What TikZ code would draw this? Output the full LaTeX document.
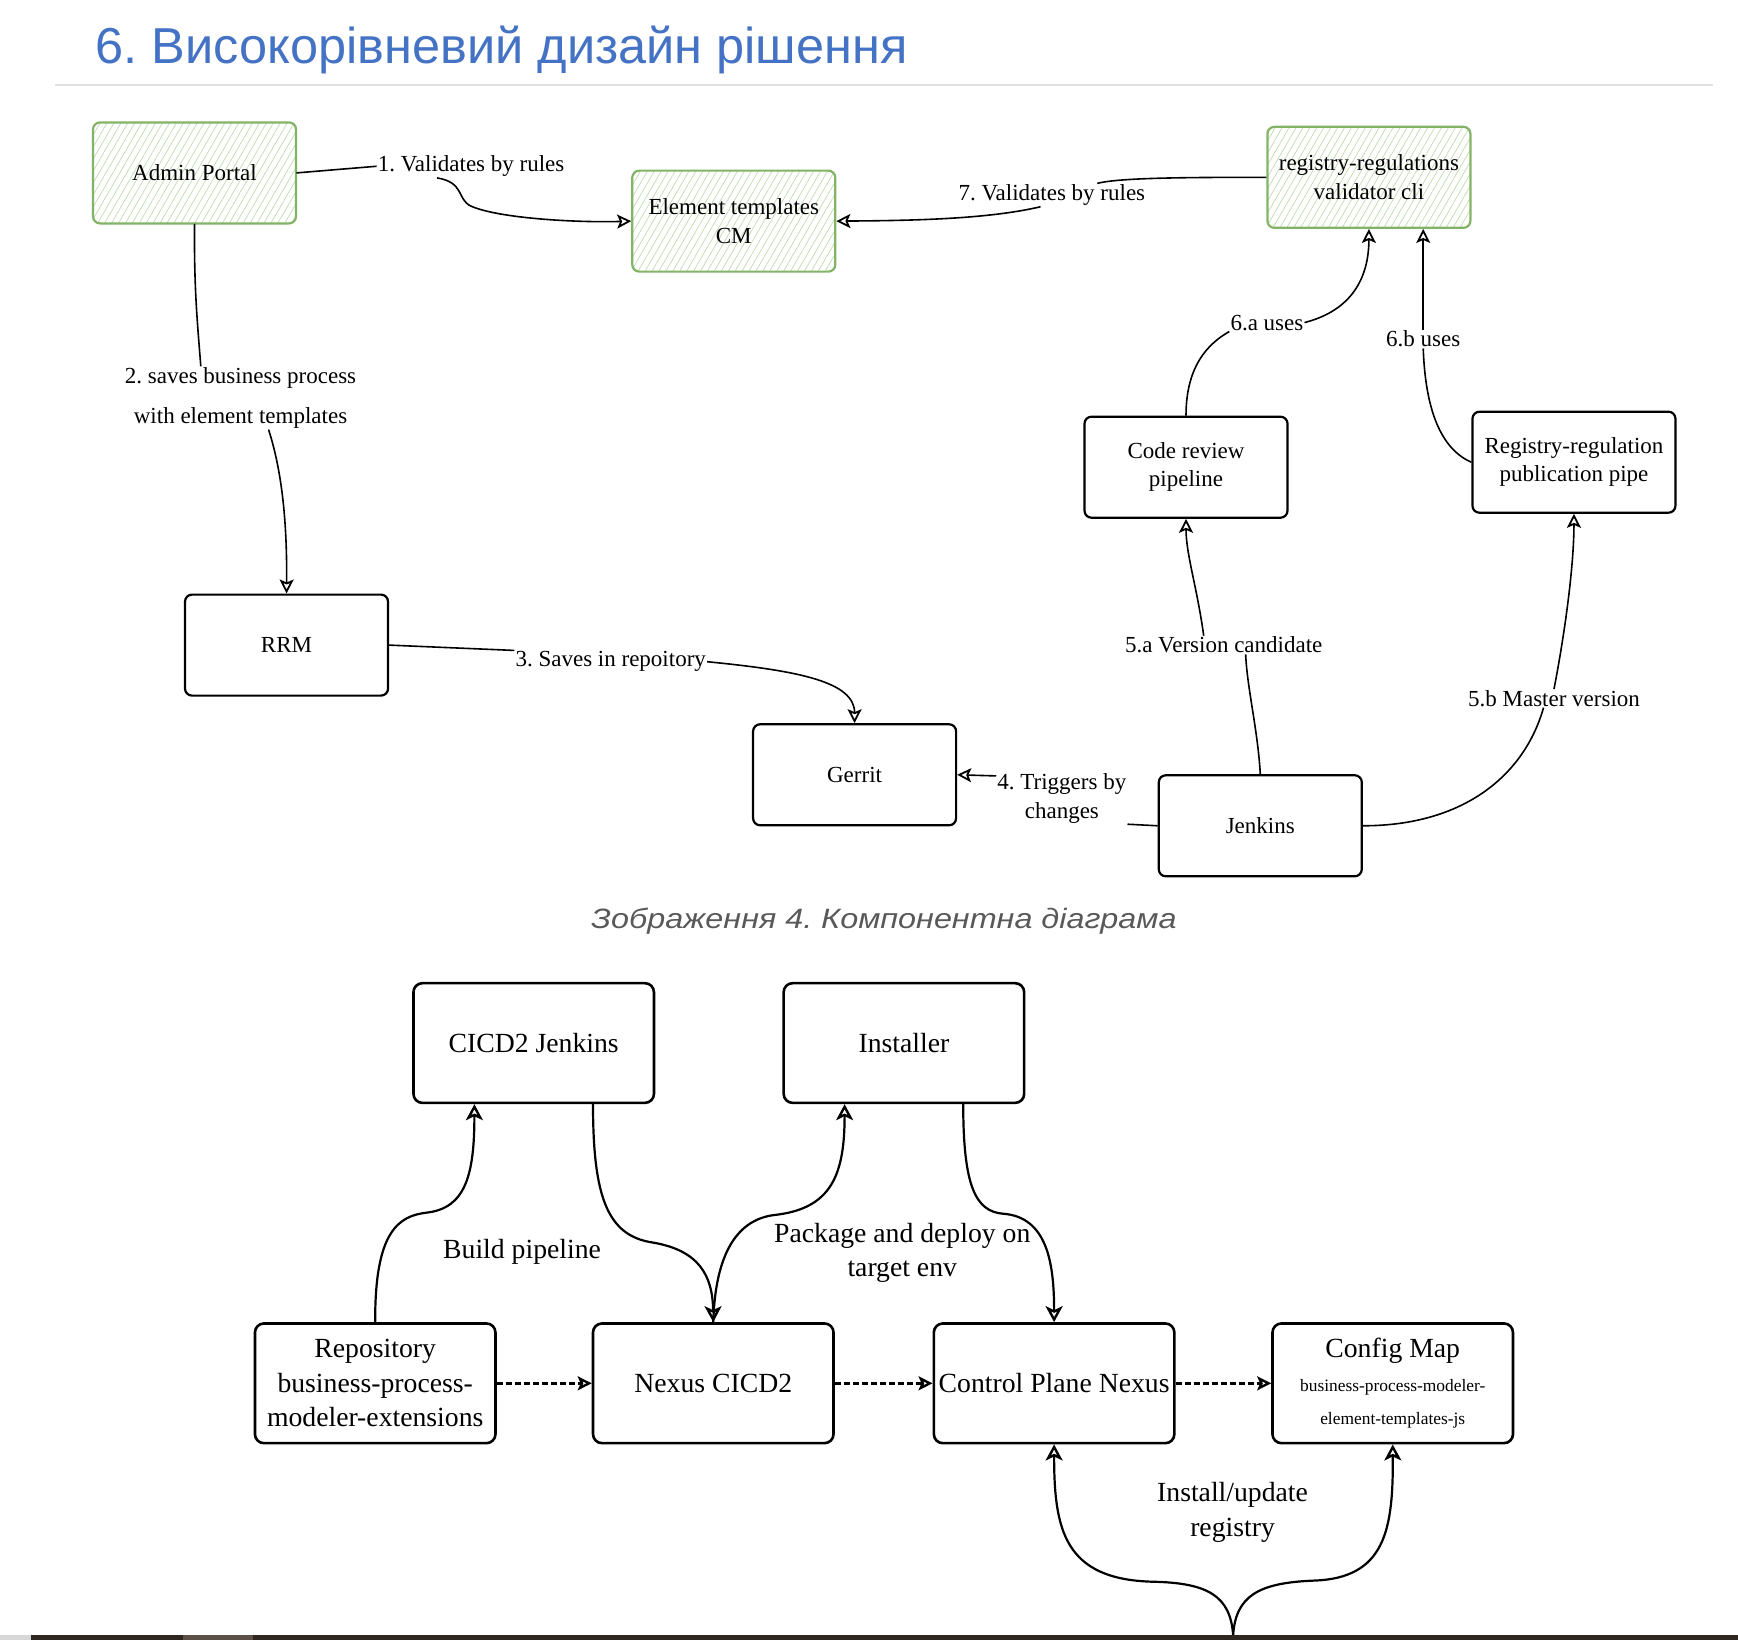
\documentclass[tikz,border=0pt]{standalone}
\usepackage{fontspec}
\usepackage{graphicx}
\setmainfont{Liberation Serif}
\newfontfamily\sansf{Liberation Sans}
\usetikzlibrary{arrows.meta,patterns.meta,calc}
\definecolor{titleblue}{RGB}{68,114,196}
\definecolor{capgray}{RGB}{89,89,89}
\definecolor{gborder}{RGB}{130,179,102}
\definecolor{ghatch}{RGB}{196,222,180}
\definecolor{rulegray}{RGB}{224,224,224}
\definecolor{bardark}{RGB}{48,38,32}
\definecolor{barpatch}{RGB}{92,80,72}
\definecolor{barleft}{RGB}{215,215,215}
\frenchspacing
\begin{document}
\frenchspacing
\begin{tikzpicture}[x=1.1084pt,y=-1.1084pt,
  tbox/.style={draw, line width=2.2pt, rounded corners=7pt, minimum width=203pt, minimum height=101pt, inner sep=2pt, align=center, font=\fontsize{23}{28.5}\selectfont},
  gbox/.style={tbox, draw=gborder, pattern={Lines[angle=60,distance=6pt,line width=0.8pt]}, pattern color=ghatch},
  tlab/.style={inner sep=1pt, align=center, font=\fontsize{23}{29}\selectfont},
  tarr/.style={line width=1.6pt, -{Stealth[open,length=14pt,width=14pt,inset=3pt,line width=1.8pt]}},
  tline/.style={line width=1.6pt},
  bbox/.style={draw, line width=2.6pt, rounded corners=9pt, minimum width=240.5pt, minimum height=119.7pt, inner sep=2pt, align=center, font=\fontsize{27.7}{34.4}\selectfont},
  blab/.style={inner sep=1pt, align=center, font=\fontsize{27.7}{34.4}\selectfont},
  barr/.style={line width=2.2pt, -{Stealth[open,length=16pt,width=17pt,inset=4pt,line width=2.4pt]}},
  dasharr/.style={line width=2.6pt, dash pattern=on 6pt off 3pt, -{Stealth[open,length=14pt,width=14pt,inset=3pt,line width=2.4pt]}},
]
\useasboundingbox (0,0) rectangle (1568,1480);

% title and rule
\node[anchor=base west, inner sep=0, text=titleblue, font=\sansf\fontsize{50.5}{60}\selectfont] (title) at (86,57.7) {6. Високорівневий дизайн рішення};
\draw[rulegray, line width=2pt] (50,76.5) -- (1545,76.5);

% ---------- top diagram ----------
\node[gbox] (admin) at (175.5,156) {Admin Portal};
\node[gbox] (etcm) at (662,199.5) {Element templates\\CM};
\node[gbox] (valcli) at (1235,160) {registry-regulations\\validator cli};
\node[tbox] (crp) at (1070,421.5) {Code review\\pipeline};
\node[tbox] (rpp) at (1420,417) {Registry-regulation\\publication pipe};
\node[tbox] (rrm) at (258.5,582) {RRM};
\node[tbox] (gerrit) at (771,699) {Gerrit};
\node[tbox] (jenkins) at (1137,745) {Jenkins};

\node[tlab] (l1) at (425,150) {1. Validates by rules};
\node[tlab, font=\fontsize{23}{40}\selectfont] (l2) at (217,359) {2. saves business process\\with element templates};
\node[tlab] (l3) at (551,597) {3. Saves in repoitory};
\node[tlab] (l4) at (958,720) {4. Triggers by\\changes};
\node[tlab] (l5a) at (1104,582) {5.a Version candidate};
\node[tlab] (l5b) at (1402,630) {5.b Master version};
\node[tlab] (l6a) at (1143,291) {6.a uses};
\node[tlab] (l6b) at (1284,306) {6.b uses};
\node[tlab] (l7) at (949,176) {7. Validates by rules};

\draw[tline] (admin.east) -- (l1.west);
\draw[tarr] ($(l1.south west)!0.32!(l1.south east)$) .. controls +(25,4) and (412,180) .. (425,186) .. controls (450,197) and (520,201) .. (etcm.west);

\draw[tline] (admin.south) .. controls (175,260) and (178,290) .. ($(l2.north west)!0.33!(l2.north east)$);
\draw[tarr] ($(l2.south west)!0.62!(l2.south east)$) .. controls (256,430) and (259,480) .. (rrm.north);

\draw[tline] (rrm.east) -- (l3.north west);
\draw[tarr] (l3.east) .. controls (720,605) and (771,615) .. (gerrit.north);

\draw[tline] (jenkins.west) -- (l4.south east);
\draw[tarr] ([yshift=-4pt]l4.north west) -- (gerrit.east);

\draw[tline] (jenkins.north) .. controls (1135,660) and (1125,620) .. ($(l5a.south west)!0.61!(l5a.south east)$);
\draw[tarr] ($(l5a.north west)!0.4!(l5a.north east)$) .. controls (1080,530) and (1070,500) .. (crp.south);

\draw[tline] (jenkins.east) .. controls (1320,745) and (1375,700) .. ($(l5b.south west)!0.44!(l5b.south east)$);
\draw[tarr] (l5b.north) .. controls (1412,570) and (1420,510) .. (rpp.south);

\draw[tline] (crp.north) .. controls (1070,330) and (1090,310) .. (l6a.south west);
\draw[tarr] (l6a.east) .. controls (1220,280) and (1235,250) .. (valcli.south);

\draw[tline] (rpp.west) .. controls (1300,405) and (1286,370) .. (l6b.south);
\draw[tarr] (l6b.north) -- (l6b.north |- valcli.south);

\draw[tline] (valcli.west) .. controls (1080,160) and (1010,160) .. ($(l7.north west)!0.74!(l7.north east)$);
\draw[tarr] ($(l7.south west)!0.44!(l7.south east)$) .. controls (890,198) and (820,199) .. (etcm.east);

% caption
\node[anchor=base, inner sep=0, text=capgray, font=\sansf\itshape\fontsize{28}{32}\selectfont] (caption) at (797.5,838) {\scalebox{1.155}[1]{Зображення 4. Компонентна діаграма}};

% ---------- bottom diagram ----------
\node[bbox] (cicd) at (481.5,941) {CICD2 Jenkins};
\node[bbox] (inst) at (815.5,941) {Installer};
\node[bbox] (repo) at (338.5,1248) {Repository\\business-process-\\modeler-extensions};
\node[bbox] (nexus) at (643.5,1248) {Nexus CICD2};
\node[bbox] (cpn) at (951,1248) {Control Plane Nexus};
\node[bbox, font=\fontsize{27.7}{33.4}\selectfont] (cfg) at (1256.5,1248) {Config Map\\\fontsize{17.4}{33.4}\selectfont business-process-modeler-\\\fontsize{17.4}{33.4}\selectfont element-templates-js};

\node[blab] (lbuild) at (471,1129) {Build pipeline};
\node[blab] (lpack) at (814,1130.5) {Package and deploy on\\target env};
\node[blab] (linst) at (1112,1364.5) {Install/update\\registry};

\draw[barr] (repo.north) .. controls (338,1110) and (360,1097) .. (385,1094) .. controls (420,1090) and (428,1060) .. ([xshift=-59.3pt]cicd.south);
\draw[barr] ([xshift=59.3pt]cicd.south) .. controls (535,1080) and (548,1115) .. (589,1121) .. controls (630,1128) and (643,1150) .. (nexus.north);
\draw[barr] (nexus.north) .. controls (645,1140) and (660,1100) .. (700,1096) .. controls (750,1090) and (762,1060) .. ([xshift=-59.3pt]inst.south);
\draw[barr] ([xshift=59.3pt]inst.south) .. controls (869,1070) and (880,1093) .. (905,1095) .. controls (945,1098) and (951,1140) .. (cpn.north);

\draw[dasharr] (repo.east) -- (nexus.west);
\draw[dasharr] (nexus.east) -- (cpn.west);
\draw[dasharr] (cpn.east) -- (cfg.west);

% bottom bar
\fill[barleft] (0,1475) rectangle (28,1480);
\fill[bardark] (28,1475) rectangle (1568,1480);
\fill[barpatch] (165,1475) rectangle (228,1480);

\coordinate (inb) at (1112.5,1475);
\draw[barr] (inb) .. controls (1110,1440) and (1090,1428) .. (1040,1427) .. controls (960,1425) and (951,1380) .. (cpn.south);
\draw[barr] (inb) .. controls (1115,1440) and (1135,1428) .. (1185,1426) .. controls (1250,1424) and (1257,1380) .. (cfg.south);
\end{tikzpicture}
\end{document}
